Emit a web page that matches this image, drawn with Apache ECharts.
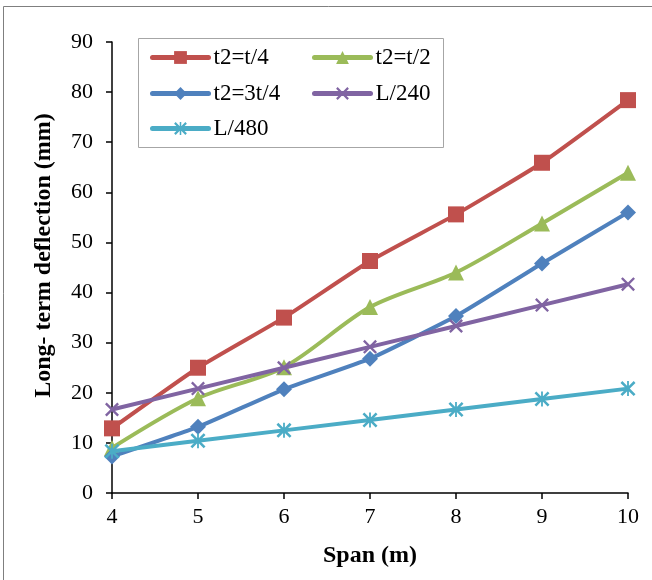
<!DOCTYPE html>
<html><head><meta charset="utf-8">
<script src="https://cdn.jsdelivr.net/npm/echarts@6/dist/echarts.min.js"></script>
<style>html,body{margin:0;padding:0;background:#fff}#c{width:652px;height:580px}</style>
</head><body><div id="c"></div>
<script>
const spans = [4, 5, 6, 7, 8, 9, 10];
const seriesNames = ['t2=t/4', 't2=t/2', 't2=3t/4', 'L/240', 'L/480'];
const tQuarter = [12.9, 25.0, 35.0, 46.3, 55.6, 65.9, 78.4];
const tHalf = [9.0, 18.9, 25.1, 37.1, 44.0, 53.8, 63.9];
const tThreeQuarter = [7.3, 13.2, 20.7, 26.8, 35.3, 45.8, 56.0];
const L240 = [16.67, 20.83, 25.0, 29.17, 33.33, 37.5, 41.67];
const L480 = [8.33, 10.42, 12.5, 14.58, 16.67, 18.75, 20.83];
const yTicks = [0, 10, 20, 30, 40, 50, 60, 70, 80, 90];

const colors = ['#C0504D', '#9BBB59', '#4F81BD', '#8064A2', '#4BACC6'];
const xSym = 'path://M0,0.12L0.12,0L0.5,0.38L0.88,0L1,0.12L0.62,0.5L1,0.88L0.88,1L0.5,0.62L0.12,1L0,0.88L0.38,0.5Z';
const starSym = 'path://M0.44,0L0.56,0L0.56,1L0.44,1Z M0,0.12L0.12,0L0.5,0.38L0.88,0L1,0.12L0.62,0.5L1,0.88L0.88,1L0.5,0.62L0.12,1L0,0.88L0.38,0.5Z';
const symbols = ['rect', 'triangle', 'diamond', xSym, starSym];
const symSizes = [16, 16, 16, 14, 15];
const allData = [tQuarter, tHalf, tThreeQuarter, L240, L480];
const smoothF = [0.15, 0.3, 0.15, 0, 0];

const font = '"Liberation Serif", "Times New Roman", serif';
const chart = echarts.init(document.getElementById('c'));

const legendPos = [[150, 46], [312, 46], [150, 82], [312, 82], [150, 117]];
const legends = seriesNames.map((n, i) => ({
  data: [n], left: legendPos[i][0], top: legendPos[i][1],
  itemWidth: 56, itemHeight: 16, itemGap: 0, padding: 0,
  lineStyle: { width: 5, cap: 'round' },
  textStyle: { fontFamily: font, fontSize: 23, color: '#000' }
}));

chart.setOption({
  animation: false,
  color: colors,
  grid: { left: 112, right: 24, top: 42, bottom: 87 },
  legend: legends,
  graphic: [
    { type: 'rect', shape: { x: 3.5, y: 6.5, width: 700, height: 700 }, style: { fill: 'none', stroke: '#7f7f7f', lineWidth: 1 }, silent: true },
    { type: 'rect', shape: { x: 138.5, y: 38.5, width: 305, height: 109 }, style: { fill: 'none', stroke: '#a6a6a6', lineWidth: 1 }, silent: true, z: 0 }
  ],
  xAxis: {
    type: 'value', min: 4, max: 10, interval: 1,
    name: 'Span (m)', nameLocation: 'middle', nameGap: 51,
    nameTextStyle: { fontFamily: font, fontSize: 24, fontWeight: 'bold', color: '#000' },
    axisLine: { lineStyle: { color: '#000', width: 1.5 } },
    axisTick: { show: true, inside: false, length: 6, lineStyle: { color: '#000', width: 1.5 } },
    axisLabel: { fontFamily: font, fontSize: 22, color: '#000', margin: 13 },
    splitLine: { show: false }
  },
  yAxis: {
    type: 'value', min: 0, max: 90, interval: 10,
    name: 'Long- term deflection (mm)', nameLocation: 'middle', nameGap: 56, nameRotate: 90,
    nameTextStyle: { fontFamily: font, fontSize: 24, fontWeight: 'bold', color: '#000', padding: [0, 0, 0, 24] },
    axisLine: { show: true, lineStyle: { color: '#000', width: 1.5 } },
    axisTick: { show: true, inside: false, length: 6, lineStyle: { color: '#000', width: 1.5 } },
    axisLabel: { fontFamily: font, fontSize: 22, color: '#000', margin: 19,
      formatter: v => yTicks.includes(v) ? String(v) : '' },
    splitLine: { show: false }
  },
  series: seriesNames.map((n, i) => ({
    name: n, type: 'line',
    data: spans.map((s, j) => [s, allData[i][j]]),
    smooth: smoothF[i],
    symbol: symbols[i], symbolSize: symSizes[i], showAllSymbol: true,
    lineStyle: { width: 4, color: colors[i] },
    itemStyle: { color: colors[i] },
    z: 2 + i
  }))
});
</script></body></html>
